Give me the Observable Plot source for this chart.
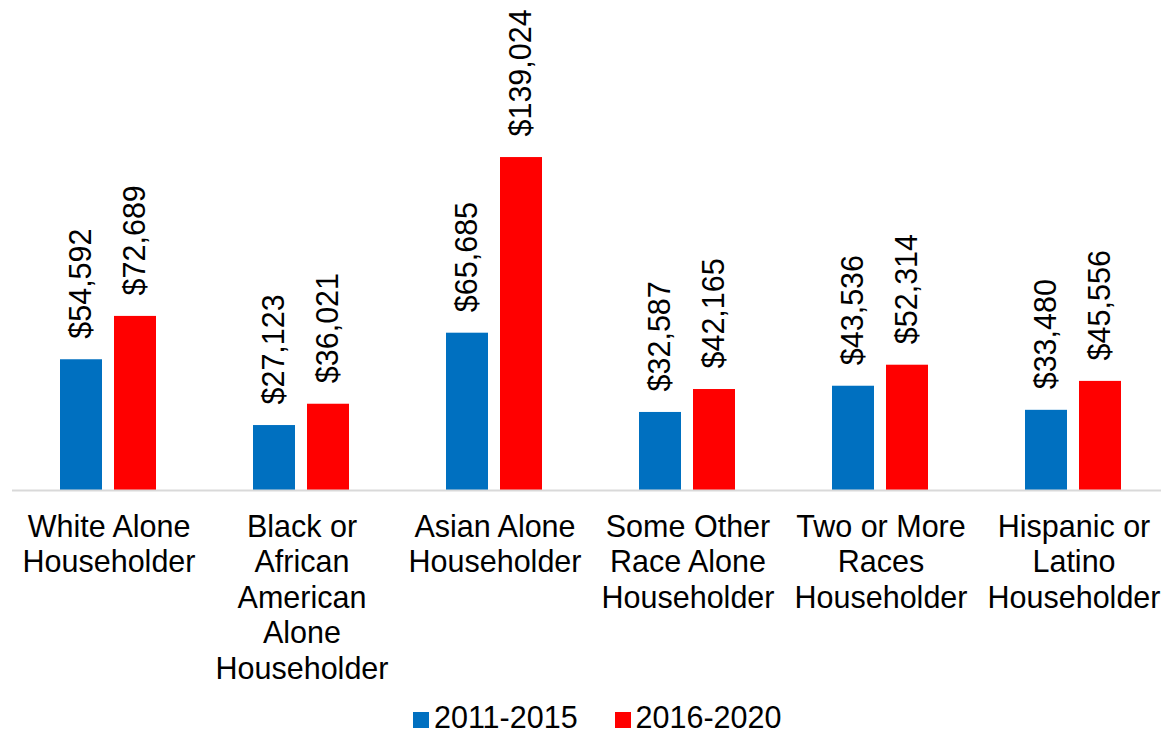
<!DOCTYPE html>
<html>
<head>
<meta charset="utf-8">
<script src="https://cdn.jsdelivr.net/npm/d3@7"></script>
<script src="https://cdn.jsdelivr.net/npm/@observablehq/plot@0.6"></script>
<style>
  html, body { margin: 0; padding: 0; background: #fff; overflow: hidden; }
  body { font-family: "Liberation Sans", Arial, sans-serif; color: #000; }
  #legend { height: 32px; line-height: 33px; font-size: 30.5px; margin-left: 413px; white-space: nowrap; }
  #legend .item { display: inline-block; margin-right: 37px; }
  #legend .sw { display: inline-block; width: 16px; height: 16px; margin-right: 5px; vertical-align: baseline; }
</style>
</head>
<body>
<div id="chart"></div>
<div id="legend"></div>
<script>
const categories = [
  "White Alone\nHouseholder",
  "Black or\nAfrican\nAmerican\nAlone\nHouseholder",
  "Asian Alone\nHouseholder",
  "Some Other\nRace Alone\nHouseholder",
  "Two or More\nRaces\nHouseholder",
  "Hispanic or\nLatino\nHouseholder"
];
const seriesNames = ["2011-2015", "2016-2020"];
const values2011_2015 = [54592, 27123, 65685, 32587, 43536, 33480];
const values2016_2020 = [72689, 36021, 139024, 42165, 52314, 45556];
const seriesColors = ["#0070C0", "#FF0000"];

const data = [];
categories.forEach((c, i) => {
  data.push({cat: c, series: seriesNames[0], value: values2011_2015[i]});
  data.push({cat: c, series: seriesNames[1], value: values2016_2020[i]});
});
const fmt = d3.format(",");

const chart = Plot.plot({
  width: 1161,
  height: 701,
  marginTop: 0,
  marginLeft: 11,
  marginRight: -9.5,
  marginBottom: 211,
  style: {fontFamily: "'Liberation Sans', Arial, sans-serif", fontSize: "30px", color: "#000", background: "#fff"},
  fx: {domain: categories, padding: 0, label: null, axis: null},
  x: {domain: seriesNames, paddingInner: 0.213, paddingOuter: 0.862, axis: null},
  y: {domain: [0, 204600], axis: null},
  color: {domain: seriesNames, range: seriesColors},
  marks: [
    Plot.barY(data, {fx: "cat", x: "series", y: "value", fill: "series"}),
    Plot.ruleY([0], {stroke: "#d9d9d9", strokeWidth: 2}),
    Plot.text(data, {fx: "cat", x: "series", y: "value", text: d => "$" + fmt(d.value),
      rotate: -90, textAnchor: "start", lineAnchor: "middle", dy: -21, fontSize: 30.5, fill: "#000"}),
    Plot.axisFx({anchor: "bottom", tickSize: 0, tickPadding: 21, fontSize: 30.5, lineHeight: 1.165, label: null, fill: "#000"})
  ]
});
document.getElementById("chart").appendChild(chart);

const legend = document.getElementById("legend");
seriesNames.forEach((s, i) => {
  const item = document.createElement("span");
  item.className = "item";
  const sw = document.createElement("span");
  sw.className = "sw";
  sw.style.background = seriesColors[i];
  item.appendChild(sw);
  item.appendChild(document.createTextNode(s));
  legend.appendChild(item);
});
</script>
</body>
</html>
